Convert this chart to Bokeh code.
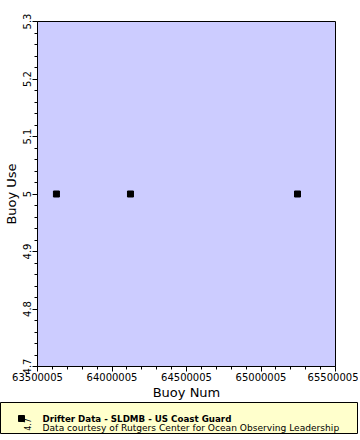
from bokeh.plotting import figure
from bokeh.layouts import column
from bokeh.models import Range1d, FixedTicker
from bokeh.core.properties import value
from bokeh.embed import file_html
from bokeh.resources import INLINE
import math

# data
buoy_num = [63627000, 64124000, 65245000]
buoy_use = [5, 5, 5]
x_ticks = [63500005, 64000005, 64500005, 65000005, 65500005]
y_ticks = [4.7, 4.8, 4.9, 5.0, 5.1, 5.2, 5.3]
y_tick_labels = ["4.7", "4.8", "4.9", "5", "5.1", "5.2", "5.3"]
legend_title = "Drifter Data - SLDMB - US Coast Guard"
legend_credit = "Data courtesy of Rutgers Center for Ocean Observing Leadership"

FONT = "DejaVu Sans"
W = 358

p = figure(width=W, height=402, output_backend="svg", toolbar_location=None,
           x_range=Range1d(x_ticks[0], x_ticks[-1]), y_range=Range1d(y_ticks[0], y_ticks[-1]),
           min_border_left=37, min_border_right=W - 335, min_border_top=21, min_border_bottom=36)
p.frame_align = False
p.background_fill_color = "#CCCCFF"
p.border_fill_color = "white"
p.outline_line_color = "black"
p.outline_line_width = 1
p.grid.visible = False

minor_x = []
for i in range(len(x_ticks) - 1):
    for k in range(1, 5):
        minor_x.append(x_ticks[i] + k * (x_ticks[i + 1] - x_ticks[i]) / 5)
minor_y = []
for i in range(len(y_ticks) - 1):
    for k in range(1, 5):
        minor_y.append(y_ticks[i] + k * (y_ticks[i + 1] - y_ticks[i]) / 5)

p.xaxis.ticker = FixedTicker(ticks=x_ticks, minor_ticks=minor_x)
p.yaxis.ticker = FixedTicker(ticks=y_ticks, minor_ticks=minor_y)
p.xaxis.major_label_overrides = {t: str(t) for t in x_ticks}
p.yaxis.major_label_overrides = dict(zip(y_ticks, y_tick_labels))
p.yaxis.major_label_orientation = "vertical"

for ax in (p.xaxis, p.yaxis):
    ax.axis_line_color = "black"
    ax.major_tick_line_color = "black"
    ax.minor_tick_line_color = "black"
    ax.major_tick_in = 0
    ax.major_tick_out = 5
    ax.minor_tick_in = 0
    ax.minor_tick_out = 3
    ax.major_label_text_font = FONT
    ax.major_label_text_font_size = "10px"
    ax.major_label_text_color = "black"
    ax.axis_label_text_font = FONT
    ax.axis_label_text_font_size = "13px"
    ax.axis_label_text_font_style = "normal"
    ax.axis_label_text_color = "black"
    ax.major_label_standoff = 1
    ax.axis_label_standoff = 1
p.yaxis.major_label_standoff = 2
p.xaxis.axis_label = "Buoy Num"
p.yaxis.axis_label = "Buoy Use"

p.scatter(buoy_num, buoy_use, marker="square", size=6, fill_color="black", line_color="black")

# legend panel
lg = figure(width=W, height=32, output_backend="svg", toolbar_location=None,
            x_range=Range1d(0, W - 1), y_range=Range1d(31, 0),
            min_border_left=0, min_border_right=1, min_border_top=0, min_border_bottom=1,
            x_axis_location=None, y_axis_location=None)
lg.frame_align = False
lg.grid.visible = False
lg.background_fill_color = "#FFFFCC"
lg.border_fill_color = "white"
lg.outline_line_color = "black"
lg.outline_line_width = 1
lg.scatter([21], [16], marker="square", size=6, fill_color="black", line_color="black")
lg.text([27], [22], text=["4.7"], angle=math.pi / 2, text_font=value(FONT), text_font_size="8px",
        text_align="center", text_baseline="middle", text_color="black")
lg.text([42], [16], text=[legend_title], text_font=value(FONT), text_font_size="8.7px",
        text_font_style="bold", text_baseline="middle", text_color="black")
lg.text([42], [25], text=[legend_credit], text_font=value(FONT), text_font_size="9.1px",
        text_baseline="middle", text_color="black")

layout = column(p, lg, spacing=0)
open("out.html", "w").write(file_html(layout, INLINE))
